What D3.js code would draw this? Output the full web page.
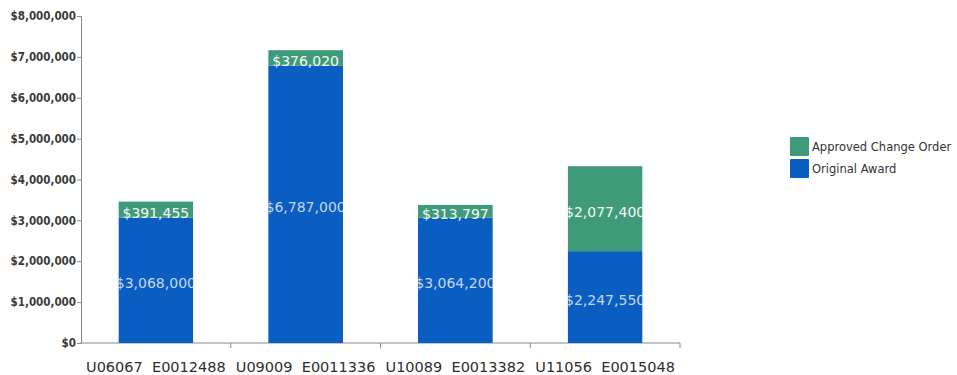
<!DOCTYPE html>
<html>
<head>
<meta charset="utf-8">
<script src="https://cdn.jsdelivr.net/npm/d3@7"></script>
<style>
  body { margin: 0; background: #fff; }
  svg { display: block; }
</style>
</head>
<body>
<svg width="957" height="375"></svg>
<script>
// chart data
var categories = ["U06067  E0012488", "U09009  E0011336", "U10089  E0013382", "U11056  E0015048"];
var originalAward = [3068000, 6787000, 3064200, 2247550];
var changeOrder = [391455, 376020, 313797, 2077400];
var seriesNames = ["Approved Change Order", "Original Award"];
var yTicks = [0, 1000000, 2000000, 3000000, 4000000, 5000000, 6000000, 7000000, 8000000];

var svg = d3.select("svg");
var plotLeft = 81, plotRight = 680, plotTop = 16, plotBottom = 343;
var blue = "#0a5ec2", green = "#3f9a79";

var x = d3.scaleBand().domain(categories).range([plotLeft, plotRight]).paddingInner(0.5).paddingOuter(0.25);
var y = d3.scaleLinear().domain([0, 8000000]).range([plotBottom, plotTop]);
var fmt = d3.format("$,");

// y axis
var yAxis = svg.append("g")
  .attr("transform", "translate(" + plotLeft + ",0)")
  .call(d3.axisLeft(y).tickValues(yTicks).tickFormat(fmt).tickSize(4).tickPadding(1));
yAxis.select(".domain").attr("stroke", "#8a8a8a");
yAxis.selectAll(".tick line").attr("stroke", "#8a8a8a");
yAxis.selectAll("text")
  .style("font-family", "'DejaVu Sans Condensed', 'DejaVu Sans'")
  .style("font-stretch", "condensed")
  .style("font-size", "11.5px")
  .style("font-weight", "bold")
  .attr("fill", "#3a3a3a");

// x axis, ticks sit between the categories
var bounds = d3.range(categories.length + 1).map(function (i) { return plotLeft + i * (plotRight - plotLeft) / categories.length; });
svg.append("line").attr("x1", plotLeft).attr("x2", plotRight).attr("y1", plotBottom).attr("y2", plotBottom).attr("stroke", "#8a8a8a");
svg.append("g").selectAll("line").data(bounds.slice(1)).enter().append("line")
  .attr("x1", function (d) { return d; }).attr("x2", function (d) { return d; })
  .attr("y1", plotBottom).attr("y2", plotBottom + 5).attr("stroke", "#8a8a8a");
svg.append("g").selectAll("text").data(categories).enter().append("text")
  .attr("x", function (d) { return x(d) + x.bandwidth() / 2; })
  .attr("y", 372)
  .attr("text-anchor", "middle")
  .style("font-family", "DejaVu Sans")
  .style("font-size", "14.5px")
  .attr("fill", "#2e2e2e")
  .attr("xml:space", "preserve")
  .text(function (d) { return d; });

// stacked bars
var rows = categories.map(function (c, i) { return { cat: c, orig: originalAward[i], chg: changeOrder[i] }; });

var defs = svg.append("defs");
rows.forEach(function (d, i) {
  defs.append("clipPath").attr("id", "clip" + i).append("rect")
    .attr("x", x(d.cat)).attr("y", 0).attr("width", x.bandwidth()).attr("height", 375);
});

var bars = svg.append("g").selectAll("g").data(rows).enter().append("g")
  .attr("clip-path", function (d, i) { return "url(#clip" + i + ")"; });

bars.append("rect")
  .attr("x", function (d) { return x(d.cat); })
  .attr("y", function (d) { return y(d.orig); })
  .attr("width", x.bandwidth())
  .attr("height", function (d) { return y(0) - y(d.orig); })
  .attr("fill", blue);

bars.append("rect")
  .attr("x", function (d) { return x(d.cat); })
  .attr("y", function (d) { return y(d.orig + d.chg); })
  .attr("width", x.bandwidth())
  .attr("height", function (d) { return y(d.orig) - y(d.orig + d.chg); })
  .attr("fill", green);

bars.append("text")
  .attr("x", function (d) { return x(d.cat) + x.bandwidth() / 2; })
  .attr("y", function (d) { return (y(0) + y(d.orig)) / 2 + 8; })
  .attr("text-anchor", "middle")
  .style("font-family", "DejaVu Sans")
  .style("font-size", "14px")
  .attr("fill", "#c5d6f2")
  .text(function (d) { return fmt(d.orig); });

bars.append("text")
  .attr("x", function (d) { return x(d.cat) + x.bandwidth() / 2; })
  .attr("y", function (d) { return (y(d.orig) + y(d.orig + d.chg)) / 2 + 8; })
  .attr("text-anchor", "middle")
  .style("font-family", "DejaVu Sans")
  .style("font-size", "14px")
  .attr("fill", "#f4faf6")
  .text(function (d) { return fmt(d.chg); });

// legend
var legend = svg.append("g").selectAll("g").data(seriesNames).enter().append("g")
  .attr("transform", function (d, i) { return "translate(790," + (137 + i * 22) + ")"; });
legend.append("rect").attr("width", 19).attr("height", 19).attr("rx", 1)
  .attr("fill", function (d, i) { return i === 0 ? green : blue; });
legend.append("text").attr("x", 22).attr("y", 14)
  .style("font-family", "DejaVu Sans")
  .style("font-size", "11.5px")
  .attr("fill", "#333")
  .text(function (d) { return d; });
</script>
</body>
</html>
